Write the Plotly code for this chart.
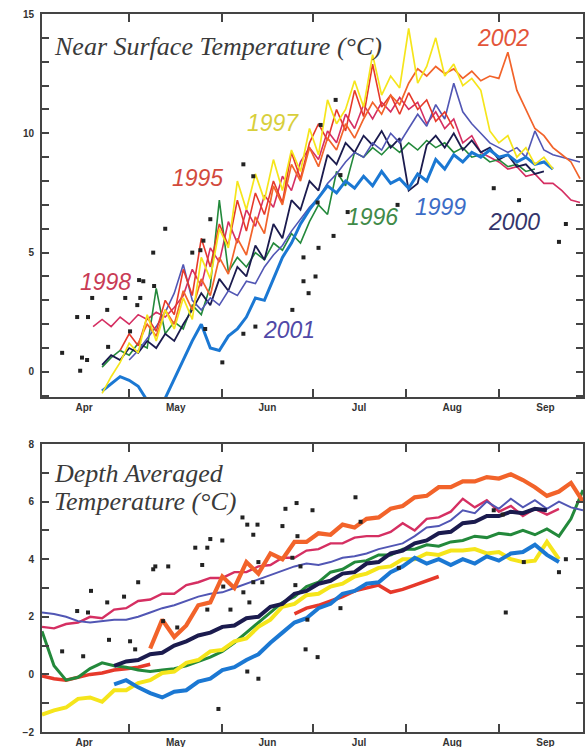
import plotly.graph_objects as go
from datetime import datetime, timedelta

# ---------------- data (day-of-year, 2001 calendar) ----------------
STEP_TOP = 3   # days between samples, near-surface panel
STEP_BOT = 4   # days between samples, depth-averaged panel

years = ["1995", "1996", "1997", "1998", "1999", "2000", "2001", "2002"]

# Near surface temperature (deg C)
surf_start = {"1995": 118, "1996": 112, "1997": 112, "1998": 109,
              "1999": 112, "2000": 112, "2001": 121, "2002": 124}
surf_1995 = [0.9, 1.6, 1.1, 2.3, 1.7, 3.0, 2.4, 4.3, 3.2, 5.6, 4.4, 6.2, 5.3, 7.2, 5.9, 7.5, 6.6, 8.0, 7.1,
             9.2, 8.1, 9.6, 10.4, 9.7, 11.0, 10.1, 11.8, 10.7, 12.9, 11.1, 11.6, 10.8, 11.7, 11.0, 11.4, 10.5,
             10.9, 10.2]
surf_1996 = [0.2, 0.6, 0.9, 0.7, 1.2, 1.0, 3.5, 1.6, 2.1, 1.8, 2.8, 2.4, 3.6, 7.2, 4.2, 4.8, 4.4, 5.0, 4.7,
             5.4, 5.1, 5.8, 5.4, 6.3, 7.0, 6.6, 8.4, 7.8, 9.2, 9.0, 9.4, 9.1, 9.5, 9.2, 9.6, 9.3, 9.7, 9.4,
             9.6, 9.2, 9.4, 9.0, 9.1, 8.8, 8.9, 8.6, 8.7, 8.4, 8.5]
surf_1997 = [-0.9, -0.2, 0.4, 1.2, 0.8, 2.4, 1.3, 2.6, 1.8, 3.1, 2.2, 4.8, 3.9, 6.0, 5.2, 8.0, 6.8, 8.3, 7.2,
             8.9, 7.6, 9.3, 8.4, 10.2, 9.1, 11.4, 10.4, 11.0, 12.2, 11.1, 13.3, 11.6, 12.4, 11.9, 14.4, 12.1,
             12.8, 14.0, 12.4, 12.9, 12.0, 12.3, 11.8, 10.1, 9.6, 9.9, 9.0, 9.4, 8.7, 9.0, 8.5]
surf_1998 = [1.9, 2.2, 1.9, 2.3, 2.0, 2.4, 2.2, 2.5, 2.3, 2.7, 3.2, 4.3, 3.6, 5.2, 4.6, 6.3, 5.4, 6.8, 6.1,
             7.4, 6.9, 8.2, 7.6, 8.8, 9.4, 8.9, 10.1, 9.6, 10.8, 10.2, 11.2, 10.6, 11.3, 10.9, 11.5, 11.0,
             11.3, 10.4, 10.9, 10.2, 10.6, 9.6, 9.9, 9.2, 9.0, 8.8, 8.5, 8.6, 8.2, 8.3, 7.9, 7.9, 7.6, 7.2, 7.1]
surf_1999 = [-0.8, -0.5, -0.2, -0.35, -0.6, -1.2, -1.6, -1.1, -0.3, 0.5, 1.3, 2.0, 1.0, 0.9, 1.5, 1.8, 2.3,
             3.1, 3.0, 3.9, 4.8, 5.4, 6.2, 6.8, 7.3, 7.8, 7.5, 8.0, 7.7, 8.2, 7.8, 8.4, 7.9, 8.1, 7.7, 8.3,
             8.0, 8.9, 8.5, 9.1, 8.8, 9.2, 9.0, 9.3, 9.0, 9.1, 8.8, 9.0, 8.7, 8.8, 8.5]
surf_2000 = [0.3, 0.7, 0.5, 1.0, 0.8, 1.3, 1.0, 1.6, 1.3, 2.0, 2.6, 3.3, 2.8, 3.9, 3.4, 4.4, 4.0, 5.3, 4.7,
             6.2, 5.6, 7.2, 6.8, 8.0, 7.6, 9.1, 8.7, 9.6, 9.2, 9.9, 9.5, 10.1, 9.4, 9.8, 7.6, 7.9, 9.5, 9.9,
             9.4, 10.0, 9.3, 9.7, 9.2, 9.4, 8.9, 9.1, 8.6, 8.7, 8.3, 8.4]
surf_2001 = [0.5, 0.9, 1.4, 1.9, 2.5, 3.3, 4.5, 3.0, 2.6, 3.1, 2.8, 3.4, 3.2, 3.8, 3.7, 4.4, 4.9, 5.3, 5.9,
             6.4, 6.9, 7.3, 7.9, 8.3, 8.8, 9.2, 9.0, 9.6, 9.3, 10.0, 9.6, 10.2, 10.8, 10.3, 11.2, 10.6, 12.1,
             10.9, 10.4, 10.0, 9.6, 9.4, 9.2, 9.4, 9.0, 10.1, 9.3, 9.1, 9.0, 8.9, 8.8]
surf_2002 = [1.2, 2.0, 1.5, 2.6, 2.0, 3.4, 2.6, 3.9, 3.2, 4.8, 4.1, 5.6, 4.9, 6.5, 5.8, 7.8, 7.0, 8.7, 8.0,
             9.4, 8.6, 9.8, 9.3, 10.4, 9.8, 10.6, 11.3, 10.8, 11.6, 11.2, 12.1, 12.7, 12.4, 12.8, 12.5, 12.7,
             12.3, 12.6, 12.2, 12.4, 12.3, 13.4, 11.8, 11.0, 10.2, 9.9, 9.4, 9.1, 8.8, 8.1]

surf_dot_day = [133, 129, 125.7, 129.3, 108.7, 119.7, 124.7, 113.7, 103.7, 107.3, 123.7, 98.7, 114, 105.3,
                107, 104.7, 142, 144.7, 148, 145.7, 152, 159, 163, 175.3, 146.3, 180.7, 179, 183, 179, 184,
                189, 193.7, 210.3, 264, 266.3, 250.7, 242.3, 159, 162.3, 184.7, 189.7, 191.3, 183.7, 124.3,
                121.3]
surf_dot_temp = [6.0, 5.0, 3.8, 3.6, 3.1, 3.1, 3.1, 2.6, 2.3, 2.3, 2.8, 0.8, 1.05, 0.6, 0.5, 0.05, 5.0, 5.1,
                 6.4, 5.5, 0.4, 1.6, 1.9, 2.6, 1.8, 3.3, 3.8, 4.0, 4.8, 5.2, 5.7, 6.7, 7.0, 5.45, 6.2, 7.2,
                 7.7, 8.7, 8.2, 10.35, 11.4, 8.25, 7.1, 3.85, 1.7]

# Depth averaged temperature (deg C)
depth_start = {"1995": 92, "1996": 92, "1997": 92, "1998": 92,
               "1999": 116, "2000": 116, "2001": 92, "2002": 128}
depth_1995 = [-0.05, -0.15, -0.2, -0.1, 0.0, 0.05, 0.15, 0.2, 0.25, 0.35,
              None, None, None, None, None, None, None, None, None, None, None,
              2.1, 2.3, 2.4, 2.55, 2.7, 2.9, 3.0, 3.1, 2.85, 2.95, 3.1, 3.25, 3.4]
depth_1996 = [1.5, 0.3, -0.2, -0.1, 0.2, 0.4, 0.3, 0.25, 0.15, 0.1, 0.15, 0.2, 0.3, 0.45, 0.6, 0.8, 1.1,
              1.45, 1.8, 2.15, 2.5, 2.7, 3.05, 3.2, 3.55, 3.65, 3.9, 3.95, 4.15, 4.15, 4.35, 4.35, 4.5, 4.45,
              4.6, 4.65, 4.8, 4.75, 4.9, 4.85, 5.0, 4.85, 5.05, 4.8, 5.4, 6.4]
depth_1997 = [-1.4, -1.25, -1.15, -0.85, -0.8, -0.95, -0.55, -0.55, -0.3, -0.2, 0.05, 0.1, 0.4, 0.5, 0.8,
              0.85, 1.15, 1.25, 1.65, 1.9, 2.35, 2.45, 2.75, 2.8, 3.05, 3.15, 3.4, 3.5, 3.7, 3.75, 4.0, 4.0,
              4.2, 4.15, 4.3, 4.3, 4.35, 4.2, 4.25, 4.0, 3.9, 3.95, 4.6, 4.0]
depth_1998 = [1.65, 1.6, 1.75, 1.8, 2.0, 1.95, 2.25, 2.3, 2.55, 2.6, 2.8, 2.8, 3.1, 3.2, 3.35, 3.35, 3.55,
              3.55, 3.75, 3.8, 4.05, 4.05, 4.3, 4.35, 4.55, 4.55, 4.75, 4.8, 4.8, 4.95, 5.25, 5.0, 5.4, 5.45,
              5.65, 6.1, 5.8, 6.05, 5.65, 5.85, 5.5, 5.75, 5.55, 5.75]
depth_1999 = [-0.35, -0.2, -0.45, -0.65, -0.8, -0.6, -0.55, -0.25, -0.15, 0.15, 0.25, 0.5, 0.7, 1.1, 1.45,
              1.8, 1.95, 2.3, 2.45, 2.8, 2.9, 3.15, 3.2, 3.55, 3.75, 4.05, 3.85, 4.0, 3.8, 4.0, 3.85, 4.1,
              3.95, 4.2, 4.25, 4.5, 4.15, 3.9]
depth_2000 = [0.3, 0.45, 0.5, 0.7, 0.75, 1.0, 1.15, 1.35, 1.45, 1.65, 1.7, 1.95, 2.0, 2.35, 2.45, 2.8, 2.9,
              3.15, 3.25, 3.5, 3.55, 3.85, 3.9, 4.2, 4.3, 4.55, 4.65, 4.9, 4.95, 5.25, 5.3, 5.5, 5.5, 5.65,
              5.6, 5.75, 5.7]
depth_2001 = [2.15, 2.1, 2.0, 1.85, 1.8, 1.85, 1.9, 1.9, 2.0, 2.15, 2.3, 2.4, 2.55, 2.7, 2.8, 2.85, 3.0,
              3.15, 3.3, 3.45, 3.6, 3.75, 3.85, 3.8, 3.9, 4.05, 4.1, 4.2, 4.35, 4.45, 4.55, 4.8, 5.1, 5.15,
              5.35, 5.7, 5.6, 6.0, 5.75, 6.1, 5.8, 6.05, 5.75, 6.0, 5.8, 5.7]
depth_2002 = [0.9, 1.9, 1.3, 1.7, 2.4, 2.5, 3.4, 3.0, 3.9, 3.5, 4.2, 4.0, 4.6, 4.6, 4.9, 4.85, 5.2, 5.1,
              5.4, 5.45, 5.75, 5.85, 6.15, 6.2, 6.5, 6.5, 6.7, 6.7, 6.85, 6.8, 6.95, 6.75, 6.5, 6.2, 6.35,
              6.65, 6.0]

depth_dot_day = [98.7, 103.7, 107.3, 108.3, 113.7, 114.3, 119.3, 124, 129, 129.7, 134, 121.3, 123, 105.7,
                 132.3, 137, 145.3, 143, 147, 148, 152, 147, 152.3, 154.7, 158.7, 160.3, 163.7, 162.3, 159,
                 161, 164, 162.3, 165.3, 172, 173, 176.7, 160.3, 164, 150.7, 177, 175.3, 182, 196.3, 178,
                 176.3, 180.3, 179.7, 183.7, 198, 210.7, 191.3, 242.3, 245.3, 246.3, 252.3, 266.3, 264]
depth_dot_temp = [0.8, 2.2, 2.15, 2.9, 2.5, 1.2, 2.7, 3.2, 3.65, 3.75, 3.75, 1.15, 0.87, 0.63, 1.85, 1.63,
                  3.8, 4.4, 4.4, 4.7, 4.65, 2.25, 3.05, 2.25, 5.45, 5.2, 5.2, 4.85, 2.85, 2.5, 3.9, 3.2,
                  3.2, 5.15, 5.75, 5.95, 0.1, -0.15, -1.2, 4.8, 4.05, 5.7, 6.15, 3.75, 3.1, 1.9, 0.87, 0.6,
                  5.3, 3.7, 2.3, 5.7, 5.55, 2.15, 3.9, 4.0, 3.55]

surf_series = {"1995": surf_1995, "1996": surf_1996, "1997": surf_1997, "1998": surf_1998,
               "1999": surf_1999, "2000": surf_2000, "2001": surf_2001, "2002": surf_2002}
depth_series = {"1995": depth_1995, "1996": depth_1996, "1997": depth_1997, "1998": depth_1998,
                "1999": depth_1999, "2000": depth_2000, "2001": depth_2001, "2002": depth_2002}

# ---------------- styles ----------------
colors = {"1995": "#e6392a", "1996": "#23893b", "1997": "#f5e51b", "1998": "#d52f62",
          "1999": "#1b78d3", "2000": "#1b1b4e", "2001": "#5156b4", "2002": "#f2632a"}
label_colors = {"1995": "#d24a3c", "1996": "#3f8a48", "1997": "#d8cf3c", "1998": "#c93b55",
                "1999": "#3b6cc6", "2000": "#35356b", "2001": "#5049a8", "2002": "#e3553a"}
surf_width = {"1995": 1.6, "1996": 1.6, "1997": 1.7, "1998": 1.6,
              "1999": 3.0, "2000": 1.8, "2001": 1.6, "2002": 1.7}
depth_width = {"1995": 3.5, "1996": 3.0, "1997": 4.0, "1998": 2.4,
               "1999": 4.0, "2000": 4.0, "2001": 2.0, "2002": 4.2}
surf_order = ["1998", "1996", "2000", "2001", "1999", "1995", "2002", "1997"]
depth_order = ["1995", "1998", "1996", "2001", "2002", "1997", "2000", "1999"]

BASE = datetime(2001, 1, 1)


def to_dates(days):
    return [(BASE + timedelta(days=d - 1)).strftime("%Y-%m-%d %H:%M") for d in days]


def grid(start, n, step):
    return [start + i * step for i in range(n)]


fig = go.Figure()

for y in surf_order:
    vals = surf_series[y]
    fig.add_trace(go.Scatter(
        x=to_dates(grid(surf_start[y], len(vals), STEP_TOP)), y=vals,
        mode="lines", line=dict(color=colors[y], width=surf_width[y]),
        xaxis="x", yaxis="y", showlegend=False, hoverinfo="skip", connectgaps=False))

fig.add_trace(go.Scatter(
    x=to_dates(surf_dot_day), y=surf_dot_temp, mode="markers",
    marker=dict(symbol="square", size=4, color="#222222"),
    xaxis="x", yaxis="y", showlegend=False, hoverinfo="skip"))

for y in depth_order:
    vals = depth_series[y]
    fig.add_trace(go.Scatter(
        x=to_dates(grid(depth_start[y], len(vals), STEP_BOT)), y=vals,
        mode="lines", line=dict(color=colors[y], width=depth_width[y]),
        xaxis="x2", yaxis="y2", showlegend=False, hoverinfo="skip", connectgaps=False))

fig.add_trace(go.Scatter(
    x=to_dates(depth_dot_day), y=depth_dot_temp, mode="markers",
    marker=dict(symbol="square", size=4, color="#222222"),
    xaxis="x2", yaxis="y2", showlegend=False, hoverinfo="skip"))

# ---------------- axes ----------------
AX = "#444444"
tickfont = dict(family="Liberation Sans", size=10, color="#333333", weight="bold")
xcommon = dict(type="date", range=["2001-04-02", "2001-09-29"], dtick="M1", tickformat="%b",
               ticklabelmode="period", ticks="inside", ticklen=8, tickwidth=1.6, tickcolor=AX,
               showline=True, linecolor=AX, linewidth=2, mirror="ticks", showgrid=False,
               zeroline=False, tickfont=tickfont, automargin=False)
ycommon = dict(ticks="inside", ticklen=7, tickwidth=1.6, tickcolor=AX, showline=True, linecolor=AX,
               linewidth=2, mirror="ticks", showgrid=False, zeroline=False, tickfont=tickfont,
               automargin=False, ticklabelstandoff=4,
               minor=dict(dtick=1, ticks="inside", ticklen=7, tickwidth=1.6, tickcolor=AX, showgrid=False))

top_bottom = 0.4666
bot_top = 0.4011

fig.update_layout(
    width=585, height=747,
    margin=dict(l=42, r=2, t=14, b=15),
    paper_bgcolor="white", plot_bgcolor="white",
    xaxis=dict(xcommon, anchor="y", domain=[0, 1]),
    yaxis=dict(ycommon, anchor="x", domain=[top_bottom, 1], range=[-1.05, 15], tick0=0, dtick=5),
    xaxis2=dict(xcommon, anchor="y2", domain=[0, 1]),
    yaxis2=dict(ycommon, anchor="x2", domain=[0, bot_top], range=[-2, 8], tick0=0, dtick=2),
)

title_font = dict(family="Liberation Serif", size=26, color="#3a3a3a")
fig.add_annotation(text="<i>Near Surface Temperature (°C)</i>", xref="x domain", yref="y domain",
                   x=0.018, y=0.914, xanchor="left", yanchor="middle", showarrow=False, font=title_font)
fig.add_annotation(text="<i>Depth Averaged</i>", xref="x2 domain", yref="y2 domain",
                   x=0.018, y=0.899, xanchor="left", yanchor="middle", showarrow=False, font=title_font)
fig.add_annotation(text="<i>Temperature (°C)</i>", xref="x2 domain", yref="y2 domain",
                   x=0.018, y=0.799, xanchor="left", yanchor="middle", showarrow=False, font=title_font)

# year labels: (day-of-year, temperature) positions
label_pos = {"2002": (245.3, 14.0), "1997": (168.7, 10.43), "1995": (143.7, 8.13), "1998": (113.0, 3.77),
             "1996": (202.0, 6.5), "1999": (224.7, 6.91), "2000": (249.0, 6.28), "2001": (174.3, 1.76)}
for y, (d, t) in label_pos.items():
    fig.add_annotation(text="<i>%s</i>" % y, x=to_dates([d])[0], y=t, xref="x", yref="y",
                       showarrow=False, xanchor="center", yanchor="middle",
                       font=dict(family="Liberation Sans", size=23, color=label_colors[y]))

fig.write_html("out.html", config={"displayModeBar": False},
               post_script="document.body.style.margin='0px';document.body.style.padding='0px';"
                           "document.body.style.overflow='hidden';")
